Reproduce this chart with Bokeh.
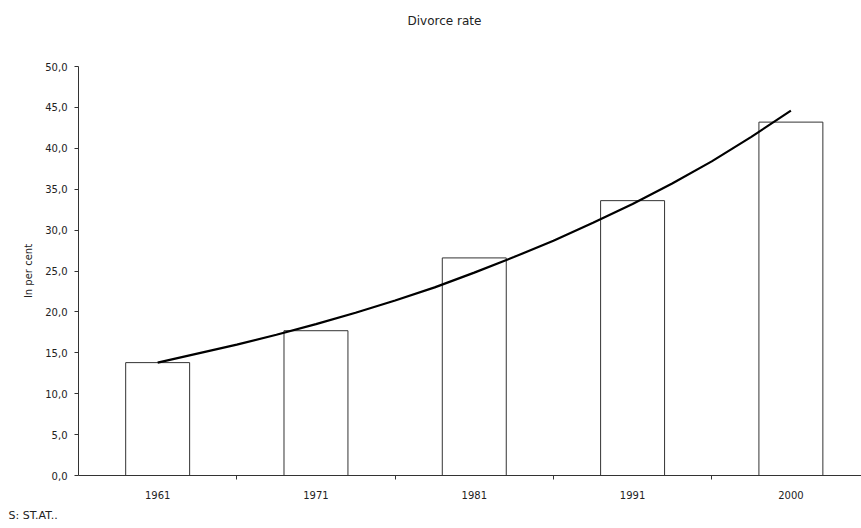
from bokeh.plotting import figure
from bokeh.models import FixedTicker, Range1d, Title, ColumnDataSource
from bokeh.embed import file_html
from bokeh.resources import INLINE

# Data
years = ["1961", "1971", "1981", "1991", "2000"]
rates = [13.8, 17.7, 26.6, 33.6, 43.2]
# Trend line (exponential trendline) values read at quarter-category steps
trend_pos = [0, 0.25, 0.5, 0.75, 1, 1.25, 1.5, 1.75, 2, 2.25, 2.5, 2.75, 3, 3.25, 3.5, 3.75, 4]
trend_val = [13.8, 14.9, 16.0, 17.2, 18.5, 19.9, 21.4, 23.0, 24.8, 26.7, 28.7, 30.9, 33.2, 35.7, 38.4, 41.4, 44.6]
y_ticks = [0, 5, 10, 15, 20, 25, 30, 35, 40, 45, 50]
y_tick_labels = ["0,0", "5,0", "10,0", "15,0", "20,0", "25,0", "30,0", "35,0", "40,0", "45,0", "50,0"]

FONT = "DejaVu Sans"
TXT = "#222222"

xs = [i + 0.5 for i in range(len(years))]

p = figure(width=861, height=528, output_backend="svg", toolbar_location=None,
           x_range=Range1d(0, 4.946), y_range=Range1d(0, 50),
           min_border_left=78, min_border_right=0, min_border_top=66, min_border_bottom=53)
p.outline_line_color = None
p.xgrid.grid_line_color = None
p.ygrid.grid_line_color = None
p.background_fill_color = "white"

src = ColumnDataSource(dict(x=xs, top=rates))
p.vbar(x="x", top="top", bottom=0, width=0.404, source=src,
       fill_color="white", line_color="#333333", line_width=1)

tsrc = ColumnDataSource(dict(x=[t + 0.5 for t in trend_pos], y=trend_val))
p.line(x="x", y="y", source=tsrc, line_color="black", line_width=2.2)

# x axis
p.xaxis.ticker = FixedTicker(ticks=xs, minor_ticks=[1, 2, 3, 4])
p.xaxis.major_label_overrides = {x: y for x, y in zip(xs, years)}
p.xaxis.major_tick_out = 0
p.xaxis.major_tick_in = 0
p.xaxis.minor_tick_out = 4
p.xaxis.minor_tick_in = 0
p.xaxis.minor_tick_line_color = "#333333"
p.xaxis.axis_line_color = "#333333"
p.xaxis.major_label_standoff = 11
p.xaxis.major_label_text_font = FONT
p.xaxis.major_label_text_font_size = "10px"
p.xaxis.major_label_text_color = TXT

# y axis
p.yaxis.ticker = FixedTicker(ticks=y_ticks, minor_ticks=[])
p.yaxis.major_label_overrides = {t: l for t, l in zip(y_ticks, y_tick_labels)}
p.yaxis.major_tick_out = 4
p.yaxis.major_tick_in = 0
p.yaxis.major_tick_line_color = "#333333"
p.yaxis.axis_line_color = "#333333"
p.yaxis.major_label_standoff = 7
p.yaxis.major_label_text_font = FONT
p.yaxis.major_label_text_font_size = "10px"
p.yaxis.major_label_text_color = TXT
p.yaxis.axis_label = "In per cent"
p.yaxis.axis_label_text_font = FONT
p.yaxis.axis_label_text_font_style = "normal"
p.yaxis.axis_label_text_font_size = "10px"
p.yaxis.axis_label_text_color = TXT
p.yaxis.axis_label_standoff = 8

# spacer between frame and title
p.add_layout(Title(text=" ", text_font_size="20px"), "above")
p.add_layout(Title(text="Divorce rate", align="left", offset=329, text_font=FONT,
                   text_font_style="normal", text_font_size="12px", text_color=TXT), "above")

src_title = Title(text="S: ST.AT..", align="left", offset=-70, text_font=FONT,
                  text_font_style="normal", text_font_size="11px", text_color=TXT)
p.add_layout(src_title, "below")

open("out.html", "w").write(file_html(p, INLINE))
